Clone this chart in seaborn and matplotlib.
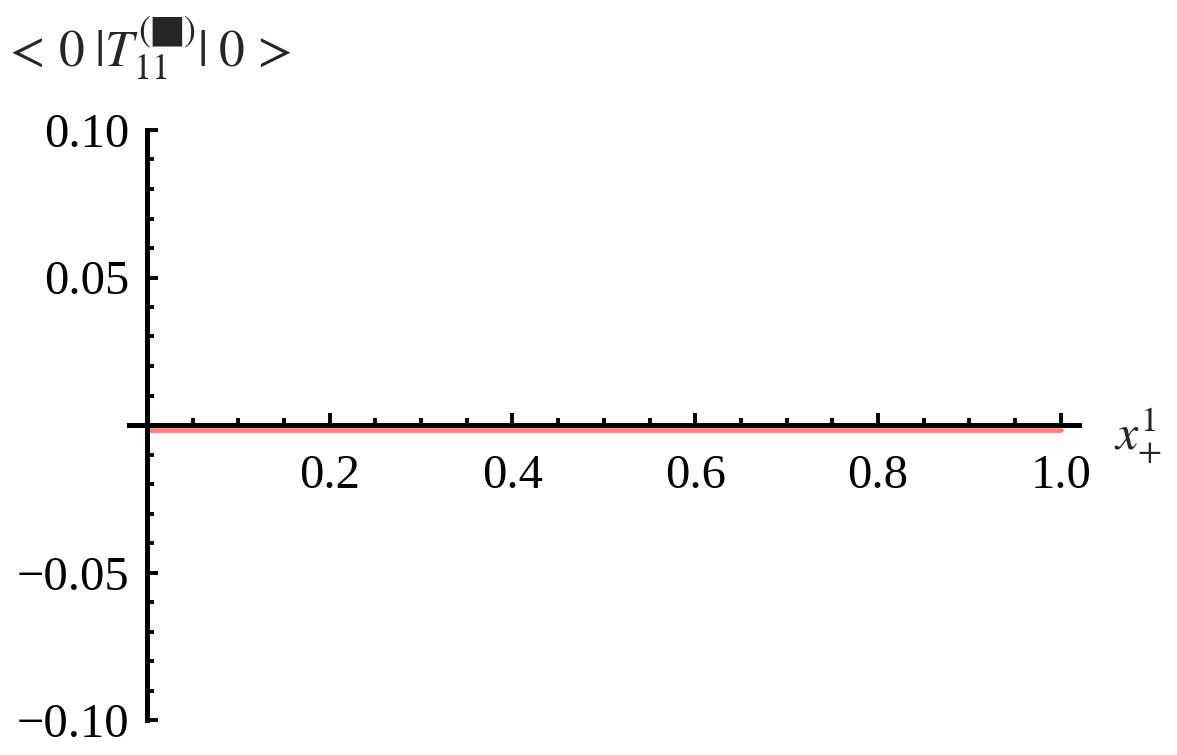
#!/usr/bin/env python3

import matplotlib

matplotlib.use("Agg")

import matplotlib.pyplot as plt
import matplotlib.transforms as mtransforms
import pandas as pd
import seaborn as sns
from matplotlib.ticker import FixedLocator, MultipleLocator


# flat zero curve on x in [0, 1]
x_values = [0.0, 0.25, 0.5, 0.75, 1.0]
t11_values = [0.0, 0.0, 0.0, 0.0, 0.0]

x_ticks = [0.2, 0.4, 0.6, 0.8, 1.0]
x_tick_labels = ["0.2", "0.4", "0.6", "0.8", "1.0"]
y_ticks = [-0.10, -0.05, 0.05, 0.10]
y_tick_labels = ["\u22120.10", "\u22120.05", "0.05", "0.10"]


def main() -> None:
    sns.set_style("white")
    plt.rcParams["font.family"] = ["Liberation Serif", "DejaVu Serif"]
    plt.rcParams["mathtext.fontset"] = "stix"

    df = pd.DataFrame({"x": x_values, "t11": t11_values})

    fig = plt.figure(figsize=(11.77, 7.55), dpi=100)
    ax = fig.add_axes([128.7 / 1177, 35 / 755, (1079 - 128.7) / 1177, 590 / 755])

    # curve sits just under the axis line, as in the original render
    shift = mtransforms.ScaledTranslation(0, -5 / 100, fig.dpi_scale_trans)
    sns.lineplot(data=df, x="x", y="t11", color="#ff7f7f", linewidth=3.4,
                 ax=ax, zorder=1, transform=ax.transData + shift)

    ax.set_xlim(-0.02, 1.02)
    ax.set_ylim(-0.10, 0.10)

    for side in ("top", "right"):
        ax.spines[side].set_visible(False)
    ax.spines["left"].set_position(("data", 0))
    ax.spines["bottom"].set_position(("data", 0))
    for side in ("left", "bottom"):
        ax.spines[side].set_linewidth(3.6)
        ax.spines[side].set_color("black")
        ax.spines[side].set_zorder(3)

    ax.xaxis.set_major_locator(FixedLocator(x_ticks))
    ax.xaxis.set_minor_locator(MultipleLocator(0.05))
    ax.set_xticklabels(x_tick_labels)
    ax.yaxis.set_major_locator(FixedLocator(y_ticks))
    ax.yaxis.set_minor_locator(MultipleLocator(0.01))
    ax.set_yticklabels(y_tick_labels)

    ax.tick_params(axis="x", which="both", bottom=True, direction="in",
                   width=2.8, color="black")
    ax.tick_params(axis="y", which="both", left=True, direction="in",
                   width=2.8, color="black")
    ax.tick_params(axis="x", which="major", length=9, pad=21, labelsize=35,
                   labelcolor="black")
    ax.tick_params(axis="x", which="minor", length=5)
    ax.tick_params(axis="y", which="major", length=8, pad=13, labelsize=35,
                   labelcolor="black")
    ax.tick_params(axis="y", which="minor", length=5)

    ax.set_xlabel("")
    ax.set_ylabel("")

    fig.text(2 / 1177, 1 - 66 / 755,
             r"$<\,0\;|T_{11}^{(\blacksquare)}|\;0\,>$",
             fontsize=37, ha="left", va="baseline")
    fig.text(1114 / 1177, 1 - 450 / 755, r"$x_{+}^{1}$",
             fontsize=36, ha="left", va="baseline")

    fig.savefig("out.png", dpi=100)
    plt.close(fig)


if __name__ == "__main__":
    main()
